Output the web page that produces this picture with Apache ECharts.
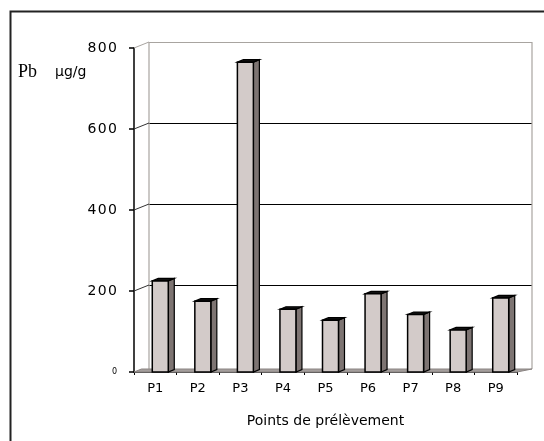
<!DOCTYPE html>
<html>
<head>
<meta charset="utf-8">
<script src="https://cdn.jsdelivr.net/npm/echarts@6/dist/echarts.min.js"></script>
<style>
  html, body { margin: 0; padding: 0; background: #fff; }
  #myChart { width: 544px; height: 441px; }
</style>
</head>
<body>
<div id="myChart"></div>
<script>
var categories = ['P1', 'P2', 'P3', 'P4', 'P5', 'P6', 'P7', 'P8', 'P9'];
var pbValues = [225, 175, 765, 155, 128, 193, 142, 104, 183];
var yTicks = [0, 200, 400, 600, 800];

window.onload = function () {
    var myChart = echarts.init(document.getElementById('myChart'));
    var dx = 15, dy = 6;          // depth of the back wall
    var fontName = 'DejaVu Sans';

    var option = {
        animation: false,
        backgroundColor: '#fff',
        grid: [
            // back wall
            { left: 134 + dx, right: 27 - dx, top: 48 - dy, bottom: 69 + dy },
            // front plane
            { left: 134, right: 27, top: 48, bottom: 69 }
        ],
        xAxis: [
            { gridIndex: 0, type: 'category', data: categories, show: false },
            {
                gridIndex: 1, type: 'category', data: categories,
                axisLine: { lineStyle: { color: '#000', width: 1.5 } },
                axisTick: { show: true, length: 3, lineStyle: { color: '#000' } },
                axisLabel: { color: '#000', fontFamily: fontName, fontSize: 13, margin: 10 },
                name: 'Points de prélèvement',
                nameLocation: 'middle',
                nameGap: 42,
                nameTextStyle: { color: '#000', fontFamily: fontName, fontSize: 14 }
            }
        ],
        yAxis: [
            {
                gridIndex: 0, type: 'value', min: 0, max: 800, interval: 200,
                axisLine: { show: false }, axisTick: { show: false }, axisLabel: { show: false },
                splitLine: { show: true, lineStyle: { color: ['transparent', '#000', '#000', '#000', '#a8a4a0'], width: 1.2 } }
            },
            {
                gridIndex: 1, type: 'value', min: 0, max: 800, interval: 200,
                axisLine: { show: true, lineStyle: { color: '#000', width: 1.5 } },
                axisTick: { show: true, length: 5, lineStyle: { color: '#000', width: 1.5 } },
                splitLine: { show: false },
                axisLabel: {
                    color: '#000', fontFamily: fontName, fontSize: 14, margin: 17,
                    formatter: function (v) {
                        if (v === 0) return '{s|0}';
                        return String(v).split('').join('\u200a');
                    },
                    rich: { s: { fontSize: 8, fontFamily: fontName, color: '#000' } }
                }
            }
        ],
        series: [{
            type: 'custom',
            xAxisIndex: 1,
            yAxisIndex: 1,
            z: 5,
            data: pbValues.map(function (v, i) { return [i, v]; }),
            renderItem: function (params, api) {
                var base = api.coord([api.value(0), 0]);
                var top = api.coord([api.value(0), api.value(1)]);
                var w = 16, sx = 6, sy = 2.5;
                var left = base[0] - 3;
                var yb = base[1], yt = top[1];
                return {
                    type: 'group',
                    children: [
                        { type: 'polygon',
                          shape: { points: [[left + w, yt], [left + w + sx, yt - sy], [left + w + sx, yb - sy], [left + w, yb]] },
                          style: { fill: '#7d7472', stroke: '#000', lineWidth: 1.2 } },
                        { type: 'polygon',
                          shape: { points: [[left, yt], [left + sx, yt - sy], [left + w + sx, yt - sy], [left + w, yt]] },
                          style: { fill: '#111', stroke: '#000', lineWidth: 1.2 } },
                        { type: 'rect',
                          shape: { x: left, y: yt, width: w, height: yb - yt },
                          style: { fill: '#d3cbc9', stroke: '#000', lineWidth: 1.5 } }
                    ]
                };
            }
        }],
        graphic: [
            { type: 'rect', left: 8, top: 9, silent: true,
              shape: { x: 0, y: 0, width: 600, height: 500 },
              style: { fill: null, stroke: '#222', lineWidth: 2 } },
            { type: 'text', left: 18, top: 63,
              style: { text: 'Pb', fontFamily: 'Liberation Serif', fontSize: 18, fill: '#000' } },
            { type: 'text', left: 55, top: 65,
              style: { text: 'µg/g', fontFamily: fontName, fontSize: 14, fill: '#000' } }
        ]
    };
    myChart.setOption(option);

    // wall edges, floor and the short depth connectors, placed through the axes
    var extra = [];
    var x0 = myChart.convertToPixel({ xAxisIndex: 1 }, categories[0]);
    var x1 = myChart.convertToPixel({ xAxisIndex: 1 }, categories[categories.length - 1]);
    var band = (x1 - x0) / (categories.length - 1);
    var fl = x0 - band / 2, fr = x1 + band / 2;
    var fy = myChart.convertToPixel({ yAxisIndex: 1 }, 0);
    var wallTop = myChart.convertToPixel({ yAxisIndex: 0 }, 800);
    [fl + dx, fr + dx].forEach(function (x) {
        extra.push({
            type: 'line', z: 1, silent: true,
            shape: { x1: x, y1: wallTop, x2: x, y2: fy - 3 },
            style: { stroke: '#a8a4a0', lineWidth: 1.2 }
        });
    });
    extra.push({
        type: 'polygon', z: 1, silent: true,
        shape: { points: [[fl, fy], [fl + dx * 0.5, fy - 3], [fr + dx, fy - 3], [fr, fy]] },
        style: { fill: '#a49e9c', stroke: '#8a8482', lineWidth: 1 }
    });
    yTicks.forEach(function (v) {
        if (v === 0) return;
        var yf = myChart.convertToPixel({ yAxisIndex: 1 }, v);
        var yb = myChart.convertToPixel({ yAxisIndex: 0 }, v);
        extra.push({
            type: 'line', z: 2, silent: true,
            shape: { x1: fl, y1: yf, x2: fl + dx, y2: yb },
            style: { stroke: v === 800 ? '#a8a4a0' : '#333', lineWidth: 1 }
        });
    });
    option.graphic = option.graphic.concat(extra);
    myChart.setOption({ graphic: option.graphic });
};
</script>
</body>
</html>
